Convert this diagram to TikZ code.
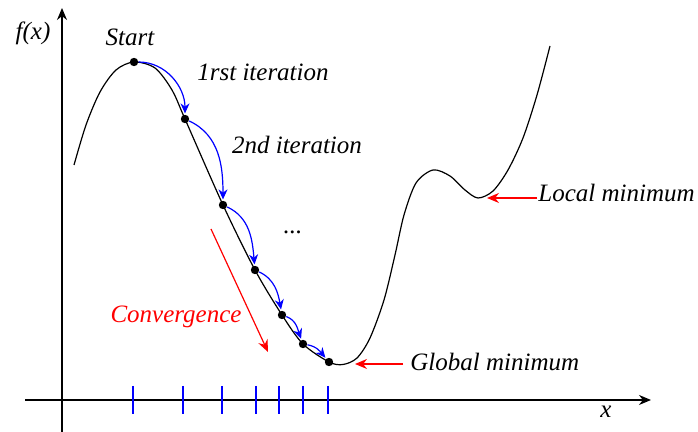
\documentclass[tikz,border=0pt]{standalone}
\usepackage{fontspec}
\setmainfont{Liberation Serif}
\usetikzlibrary{arrows.meta}
\begin{document}
\begin{tikzpicture}[x=0.5pt,y=-0.5pt,
  lbl/.style={font=\fontsize{12.5}{15}\selectfont\itshape, inner sep=1pt},
  dot/.style={circle, fill=black, inner sep=0pt, minimum size=4.2pt},
  iter/.style={draw=blue, line width=0.6pt, -{Stealth[length=5pt,width=4.5pt]}, shorten >=0.5pt},
  redarrow/.style={draw=red, line width=0.6pt, -{Stealth[length=6pt,width=5pt]}},
  tick/.style={draw=blue, line width=0.6pt},
  axis/.style={draw=black, line width=0.6pt, -{Stealth[length=6pt,width=5pt]}}]
\useasboundingbox (0,0) rectangle (698,432);
% axes
\coordinate (ya) at (62,432);
\coordinate (yb) at (62,8);
\coordinate (xa) at (25,400);
\coordinate (xb) at (651,400);
\draw[axis] (ya) -- (yb);
\draw[axis] (xa) -- (xb);
\node[lbl] (fx) at (33,33) {f(x)};
\node[lbl] (xl) at (606,412) {x};
% curve
\draw[line width=0.6pt] plot[smooth, tension=0.5] coordinates {
 (74,165) (86,125) (100,92) (116,70) (134,62) (155,68) (172,90) (185,119)
 (223,205) (255,270) (282,315) (303,344) (329,362) (343,364.5) (357,358)
 (370,338) (384,300) (395,255) (404,215) (416,183) (433,170)
 (450,176) (465,190) (478,198) (493,191) (508,170) (523,138) (537,95) (550,46)};
% points
\node[dot] (p0) at (134,62) {};
\node[dot] (p1) at (185,119) {};
\node[dot] (p2) at (223,205) {};
\node[dot] (p3) at (255,270) {};
\node[dot] (p4) at (282,315) {};
\node[dot] (p5) at (303,344) {};
\node[dot] (p6) at (329,362) {};
% iteration arrows
\draw[iter] (p0) to[out=0,in=90] (p1);
\draw[iter] (p1) to[out=-25,in=90] (p2);
\draw[iter] (p2) to[out=-25,in=95] (p3);
\draw[iter] (p3) to[out=-25,in=100] (p4);
\draw[iter] (p4) to[out=-20,in=110] (p5);
\draw[iter] (p5) to[out=-10,in=130] (p6);
% ticks
\foreach \t [count=\i] in {133,183,222,256,279,303,328}{
  \coordinate (ta\i) at (\t,386);
  \coordinate (tb\i) at (\t,414);
  \draw[tick] (ta\i) -- (tb\i);
}
% labels
\node[lbl] (start) at (130,37) {Start};
\node[lbl] (it1) at (263,72) {1rst iteration};
\node[lbl] (it2) at (297,145) {2nd iteration};
\node[lbl] (dots) at (293,232) {...};
\node[lbl, text=red] (conv) at (176,317) {Convergence};
\node[lbl, anchor=west] (loc) at (536,193) {Local minimum};
\node[lbl, anchor=west] (glob) at (408,362) {Global minimum};
% red arrows
\coordinate (lmin) at (487,198);
\coordinate (gmin) at (355,364);
\coordinate (lfrom) at (537,198);
\coordinate (gfrom) at (403,364);
\draw[redarrow] (lfrom) -- (lmin);
\draw[redarrow] (gfrom) -- (gmin);
\coordinate (ca) at (211,229);
\coordinate (cb) at (268,352);
\draw[redarrow] (ca) -- (cb);
\end{tikzpicture}
\end{document}
